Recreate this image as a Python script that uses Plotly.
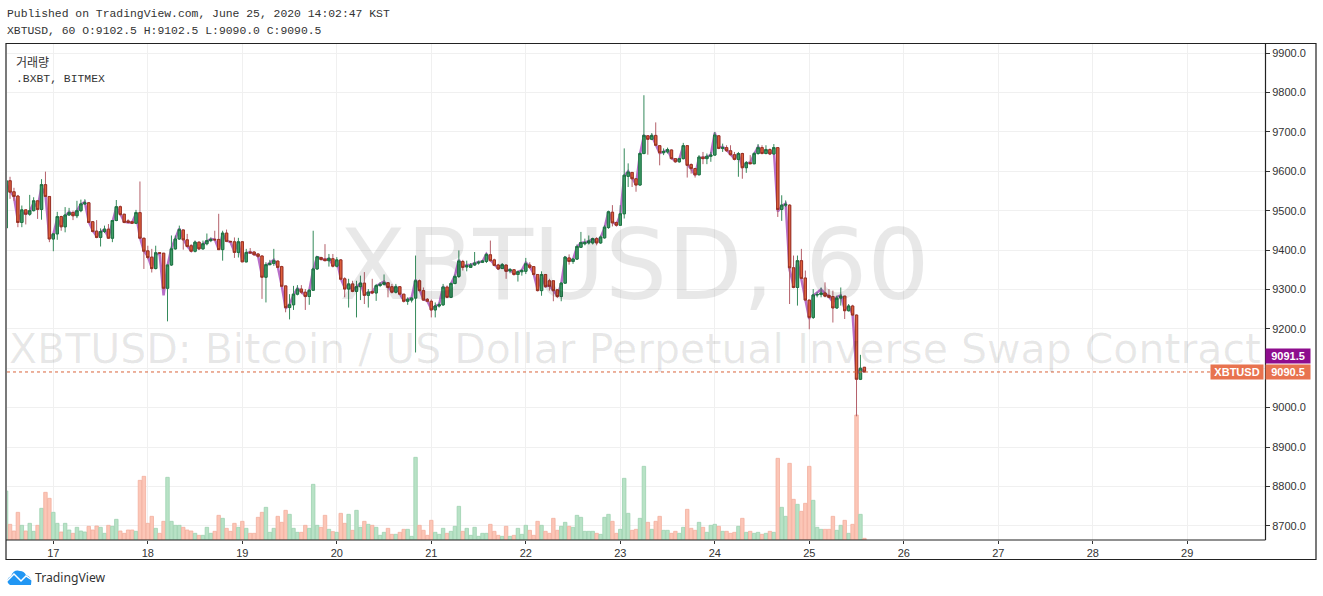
import pandas as pd
import plotly.graph_objects as go

# hourly XBTUSD candles (KST)
opens = [9456,9576,9548,9537,9470,9502,9491,9500,9525,9503,
9566,9536,9428,9441,9485,9459,9489,9495,9487,9500,
9517,9520,9472,9448,9432,9447,9453,9430,9475,9510,
9491,9474,9472,9468,9495,9430,9398,9382,9353,9393,
9392,9303,9362,9403,9428,9451,9426,9411,9397,9420,
9403,9416,9424,9427,9427,9401,9443,9422,9421,9394,
9421,9370,9395,9395,9390,9385,9331,9363,9366,9372,
9358,9309,9254,9261,9288,9301,9293,9282,9298,9352,
9381,9377,9373,9378,9359,9375,9327,9301,9314,9295,
9307,9316,9285,9295,9291,9310,9313,9317,9307,9293,
9307,9288,9270,9273,9278,9322,9297,9275,9270,9248,
9258,9261,9306,9280,9315,9333,9371,9357,9356,9362,
9367,9369,9371,9388,9375,9362,9353,9362,9347,9350,
9338,9345,9346,9362,9358,9338,9297,9338,9322,9322,
9299,9282,9316,9380,9371,9377,9407,9416,9418,9418,
9429,9418,9431,9457,9496,9470,9463,9492,9587,9597,
9581,9565,9645,9690,9681,9691,9665,9647,9649,9654,
9632,9624,9632,9665,9617,9607,9591,9636,9632,9638,
9641,9690,9658,9660,9652,9642,9630,9645,9609,9622,
9619,9645,9660,9645,9655,9644,9660,9503,9514,9514,
9355,9305,9373,9329,9273,9229,9286,9287,9291,9285,
9282,9253,9278,9283,9246,9258,9235,9072,9102.5]
closes = [9576,9547,9536,9470,9502,9491,9500,9525,9503,9566,
9536,9428,9441,9485,9459,9489,9495,9487,9500,9517,
9520,9470,9447,9432,9447,9453,9430,9475,9510,9490,
9470,9470,9468,9495,9430,9397,9381,9353,9393,9392,
9303,9362,9403,9428,9452,9426,9409,9397,9420,9403,
9416,9424,9427,9426,9401,9443,9422,9421,9394,9421,
9370,9394,9393,9388,9384,9331,9363,9366,9373,9356,
9308,9254,9261,9288,9301,9293,9282,9298,9352,9383,
9376,9373,9379,9359,9375,9326,9301,9314,9295,9307,
9316,9285,9293,9291,9310,9313,9317,9305,9293,9307,
9288,9270,9275,9278,9322,9297,9273,9270,9248,9258,
9261,9306,9280,9315,9333,9372,9356,9360,9362,9367,
9369,9372,9389,9373,9361,9352,9363,9346,9350,9338,
9345,9348,9365,9356,9338,9297,9338,9307,9308,9297,
9282,9316,9382,9371,9377,9409,9419,9419,9423,9429,
9418,9433,9458,9497,9469,9463,9492,9590,9598,9581,
9565,9645,9691,9681,9691,9666,9647,9650,9655,9632,
9624,9632,9665,9615,9607,9591,9636,9632,9638,9641,
9692,9658,9660,9652,9642,9630,9645,9609,9622,9619,
9645,9660,9645,9655,9644,9660,9503,9514,9516,9355,
9305,9373,9328,9273,9229,9286,9287,9291,9283,9280,
9253,9278,9283,9246,9258,9235,9072,9100,9090.5]
highs = [9576,9586,9558,9540,9513,9502,9540,9534,9525,9580,
9599,9536,9441,9497,9487,9509,9507,9500,9525,9528,
9529,9522,9472,9476,9455,9462,9466,9476,9527,9513,
9491,9478,9474,9502,9574,9431,9411,9403,9411,9393,
9392,9362,9437,9437,9462,9452,9441,9415,9424,9422,
9424,9442,9432,9449,9492,9449,9452,9423,9432,9431,
9422,9403,9405,9397,9392,9385,9369,9375,9403,9373,
9360,9309,9288,9309,9311,9311,9301,9301,9449,9383,
9383,9415,9390,9390,9382,9377,9331,9327,9322,9322,
9335,9344,9301,9327,9314,9318,9338,9317,9314,9314,
9307,9288,9280,9280,9386,9325,9305,9278,9275,9267,
9267,9314,9310,9318,9338,9399,9375,9373,9367,9395,
9373,9375,9392,9424,9378,9365,9367,9362,9354,9350,
9348,9352,9380,9369,9358,9338,9346,9338,9327,9322,
9301,9318,9384,9389,9380,9414,9446,9429,9437,9431,
9433,9437,9463,9500,9514,9472,9514,9658,9620,9598,
9581,9648,9793,9692,9697,9724,9665,9658,9660,9655,
9632,9634,9672,9665,9620,9607,9641,9649,9645,9649,
9700,9691,9670,9666,9666,9649,9649,9647,9626,9641,
9649,9669,9666,9666,9658,9669,9661,9539,9526,9516,
9386,9386,9403,9348,9273,9301,9293,9305,9318,9301,
9297,9284,9305,9283,9263,9261,9236,9134,9102.5]
lows = [9456,9530,9525,9458,9458,9465,9487,9498,9479,9477,
9536,9420,9397,9426,9449,9445,9487,9476,9481,9496,
9515,9470,9445,9430,9409,9443,9428,9420,9473,9487,
9468,9468,9466,9466,9430,9352,9377,9343,9351,9391,
9300,9219,9360,9401,9426,9401,9407,9395,9394,9400,
9401,9412,9420,9424,9401,9373,9420,9420,9380,9381,
9370,9369,9390,9386,9380,9276,9267,9361,9360,9354,
9306,9242,9224,9248,9285,9288,9248,9261,9297,9350,
9373,9372,9358,9356,9356,9326,9280,9254,9293,9229,
9273,9263,9254,9288,9271,9306,9310,9280,9290,9290,
9286,9267,9261,9267,9140,9295,9271,9268,9229,9229,
9254,9258,9278,9278,9313,9329,9348,9346,9355,9360,
9363,9367,9367,9371,9359,9350,9352,9327,9341,9335,
9320,9335,9339,9352,9335,9295,9284,9305,9297,9270,
9278,9270,9315,9363,9365,9375,9406,9412,9414,9414,
9412,9416,9429,9454,9460,9460,9462,9480,9560,9560,
9548,9564,9643,9642,9679,9666,9615,9641,9645,9630,
9622,9622,9630,9584,9594,9584,9590,9618,9618,9624,
9640,9656,9649,9649,9640,9628,9586,9581,9596,9618,
9618,9642,9643,9643,9642,9642,9484,9474,9509,9263,
9303,9259,9326,9271,9199,9225,9280,9280,9280,9278,
9216,9251,9259,9225,9244,9233,8978,9070,9090]
# .BXBT overlay line
bxbt = [9570,9550,9535,9475,9495,9492,9498,9520,9508,9560,
9540,9430,9440,9480,9462,9486,9497,9490,9500,9516,
9522,9472,9450,9435,9446,9452,9432,9472,9508,9492,
9472,9470,9470,9492,9432,9398,9384,9355,9390,9390,
9285,9360,9405,9430,9455,9428,9410,9398,9418,9405,
9415,9422,9428,9427,9402,9440,9424,9420,9396,9420,
9372,9392,9395,9390,9385,9335,9360,9368,9375,9358,
9310,9252,9262,9286,9303,9295,9284,9296,9350,9382,
9378,9375,9378,9362,9374,9328,9304,9312,9298,9306,
9315,9288,9292,9293,9308,9315,9320,9306,9295,9306,
9290,9272,9274,9279,9325,9298,9275,9271,9250,9258,
9262,9308,9282,9314,9335,9375,9358,9362,9363,9366,
9370,9371,9390,9375,9363,9353,9362,9348,9350,9340,
9344,9349,9368,9358,9340,9300,9336,9308,9310,9298,
9284,9314,9380,9373,9376,9408,9418,9420,9422,9428,
9420,9432,9456,9498,9472,9464,9490,9588,9600,9583,
9566,9643,9690,9684,9690,9668,9646,9650,9654,9634,
9626,9631,9664,9618,9606,9590,9634,9634,9636,9642,
9698,9660,9662,9654,9644,9632,9644,9612,9620,9622,
9643,9662,9648,9654,9645,9655,9498,9512,9518,9350,
9310,9370,9325,9276,9225,9284,9292,9300,9290,9282,
9268,9281,9285,9250,9256,9238,9085,9098,9091.5]
volumes = [147,47,27,83,44,27,50,26,44,95,
143,125,83,50,24,50,30,20,38,27,
24,41,30,42,38,20,44,41,62,27,
20,30,30,26,179,191,50,71,35,20,
56,188,56,44,44,38,30,27,20,14,
14,38,20,26,74,65,35,26,50,38,
56,35,20,20,68,83,98,23,35,71,
53,89,77,35,23,23,44,35,167,44,
38,74,32,25,23,80,50,77,29,89,
38,56,47,44,38,14,23,35,17,17,
23,32,32,11,248,44,29,14,59,23,
17,35,20,26,41,101,26,35,14,38,
11,20,20,47,26,14,11,41,11,14,
35,17,44,29,14,56,44,26,20,65,
29,41,53,41,38,74,68,26,26,26,
20,17,68,77,56,20,32,185,80,29,
32,65,221,53,32,56,71,29,29,20,
26,20,38,92,35,29,53,38,23,44,
47,41,26,26,20,23,41,65,23,26,
20,23,17,20,26,23,245,98,71,230,
122,107,86,110,221,119,38,32,32,32,
71,29,44,59,20,47,375,77,5]
day_ticks = ["17","18","19","20","21","22","23","24","25","26","27","28","29"]
price_ticks = [8700,8800,8900,9000,9100,9200,9300,9400,9500,9600,9700,9800,9900]
# 9100.0 sits under the last price label in the reference
price_labels = ["8700.0","8800.0","8900.0","9000.0","","9200.0","9300.0","9400.0","9500.0","9600.0","9700.0","9800.0","9900.0"]

times = pd.date_range("2020-06-16 12:00", periods=len(opens), freq="h")
tick_dates = ["2020-06-%s" % d for d in day_ticks]
body_hi = [max(o, c) for o, c in zip(opens, closes)]
body_lo = [min(o, c) for o, c in zip(opens, closes)]

# plot area in page pixels, used for the frame and the text around the chart
L, R, T, B = 7, 1265, 44, 540
def px(x):
    return (x - L) / (R - L)
def py(y):
    return (B - y) / (B - T)
def pt(x, y):
    return "%f %f" % (px(x), py(y))

frame = dict(color="#222", width=1.2)
cloud = "M " + pt(10, 585) + " Q " + pt(4, 580) + " " + pt(11, 576) + " Q " + pt(14, 569) + " " + pt(20, 571) \
    + " Q " + pt(24, 571) + " " + pt(26, 575) + " Q " + pt(33, 577) + " " + pt(31, 585) + " Z"
zigzag = "M " + pt(7, 581) + " L " + pt(14, 574) + " L " + pt(21, 581) + " L " + pt(26, 576) + " L " + pt(32, 580)
shapes = [
    dict(type="rect", xref="paper", yref="paper", x0=px(6), x1=px(1316), y0=py(559.5), y1=py(43.5), line=frame, layer="above"),
    dict(type="line", xref="paper", yref="paper", x0=px(1265.5), x1=px(1265.5), y0=py(540), y1=py(43.5), line=frame, layer="above"),
    dict(type="line", xref="paper", yref="paper", x0=px(6), x1=px(1265.5), y0=py(540), y1=py(540), line=frame, layer="above"),
    dict(type="line", xref="paper", y0=closes[-1], y1=closes[-1], yref="y", x0=0, x1=px(1211), line=dict(color="#d9643c", width=1, dash="dot")),
    dict(type="path", xref="paper", yref="paper", fillcolor="#2196f3", line=dict(width=0), path=cloud),
    dict(type="path", xref="paper", yref="paper", line=dict(color="white", width=1.5), path=zigzag),
]

def note(text, x, y, size, color="#333", font="Liberation Mono", anchor="left", **kw):
    return dict(text=text, xref="paper", yref="paper", x=px(x), y=py(y), xanchor=anchor, yanchor="middle",
                showarrow=False, align=anchor, font=dict(family=font, size=size, color=color), borderpad=0, **kw)

annotations = [
    note("Published on TradingView.com, June 25, 2020 14:02:47 KST", 6, 14, 11.4),
    note("XBTUSD, 60 O:9102.5 H:9102.5 L:9090.0 C:9090.5", 6, 31, 11.4),
    note("거래량", 15, 61, 12, font="Noto Sans CJK KR"),
    note(".BXBT, BITMEX", 15, 79, 11.4),
    note("XBTUSD, 60", 634, 265, 98, color="rgba(0,0,0,0.09)", font="DejaVu Sans", anchor="center"),
    note("XBTUSD: Bitcoin / US Dollar Perpetual Inverse Swap Contract", 635, 349, 41, color="rgba(0,0,0,0.09)", font="DejaVu Sans", anchor="center"),
    note("TradingView", 34, 577, 12.2, color="#333", font="Noto Sans"),
    note("<b>9091.5</b>", 1288, 355.5, 11, color="white", font="Liberation Sans", anchor="center", bgcolor="#8e0d8e", width=44, height=14),
    note("<b>9090.5</b>", 1288, 372, 11, color="white", font="Liberation Sans", anchor="center", bgcolor="#e8734f", width=44, height=14),
    note("<b>XBTUSD</b>", 1237, 372, 11, color="white", font="Liberation Sans", anchor="center", bgcolor="#e8734f", width=52, height=14),
]

fig = go.Figure()
fig.add_trace(go.Bar(x=times, y=volumes, yaxis="y2", hoverinfo="skip",
    marker=dict(color=["#b8e2c6" if c >= o else "#fcc6b7" for o, c in zip(opens, closes)],
                line=dict(color=["#9dd2b0" if c >= o else "#f2ae9d" for o, c in zip(opens, closes)], width=0.8))))
fig.add_trace(go.Scatter(x=times, y=bxbt, mode="lines", line=dict(color="#b86fc8", width=2.5), zorder=1))
# wicks are thinner and paler than the body outline, so two traces
fig.add_trace(go.Candlestick(x=times, open=opens, high=highs, low=lows, close=closes, zorder=2,
    whiskerwidth=0,
    increasing=dict(line=dict(color="#358a5b", width=1), fillcolor="#3f9e68"),
    decreasing=dict(line=dict(color="#b4606a", width=1), fillcolor="#e0603c")))
fig.add_trace(go.Candlestick(x=times, open=opens, high=body_hi, low=body_lo, close=closes, zorder=3,
    whiskerwidth=0,
    increasing=dict(line=dict(color="#1a6b3f", width=0.8), fillcolor="#3f9e68"),
    decreasing=dict(line=dict(color="#8f2a1e", width=0.8), fillcolor="#e0603c")))

fig.update_layout(
    width=1323, height=596,
    margin=dict(l=L, r=1323 - R, t=T, b=596 - B),
    paper_bgcolor="white", plot_bgcolor="white",
    showlegend=False, bargap=0.12, boxgap=0.4, boxgroupgap=0,
    shapes=shapes, annotations=annotations,
    xaxis=dict(type="date", range=["2020-06-16 12:14", "2020-06-29 19:45"], rangeslider=dict(visible=False),
               tickvals=tick_dates, ticktext=day_ticks, ticks="outside", ticklen=3, tickcolor="#333",
               showgrid=True, gridcolor="#f0f0f0", gridwidth=1, zeroline=False,
               tickfont=dict(family="Liberation Sans", size=11, color="#333")),
    yaxis=dict(side="right", range=[8664, 9923], tickvals=price_ticks, ticktext=price_labels, ticks="outside", ticklen=4,
               tickcolor="#333", showgrid=True, gridcolor="#f0f0f0", gridwidth=1, zeroline=False,
               tickfont=dict(family="Liberation Sans", size=11, color="#333")),
    yaxis2=dict(overlaying="y", range=[0, 1488], visible=False),
)

# the page's default body margin would push the figure 8px in
fig.write_html("out.html", config={"displayModeBar": False}, post_script="document.body.style.margin='0';")
